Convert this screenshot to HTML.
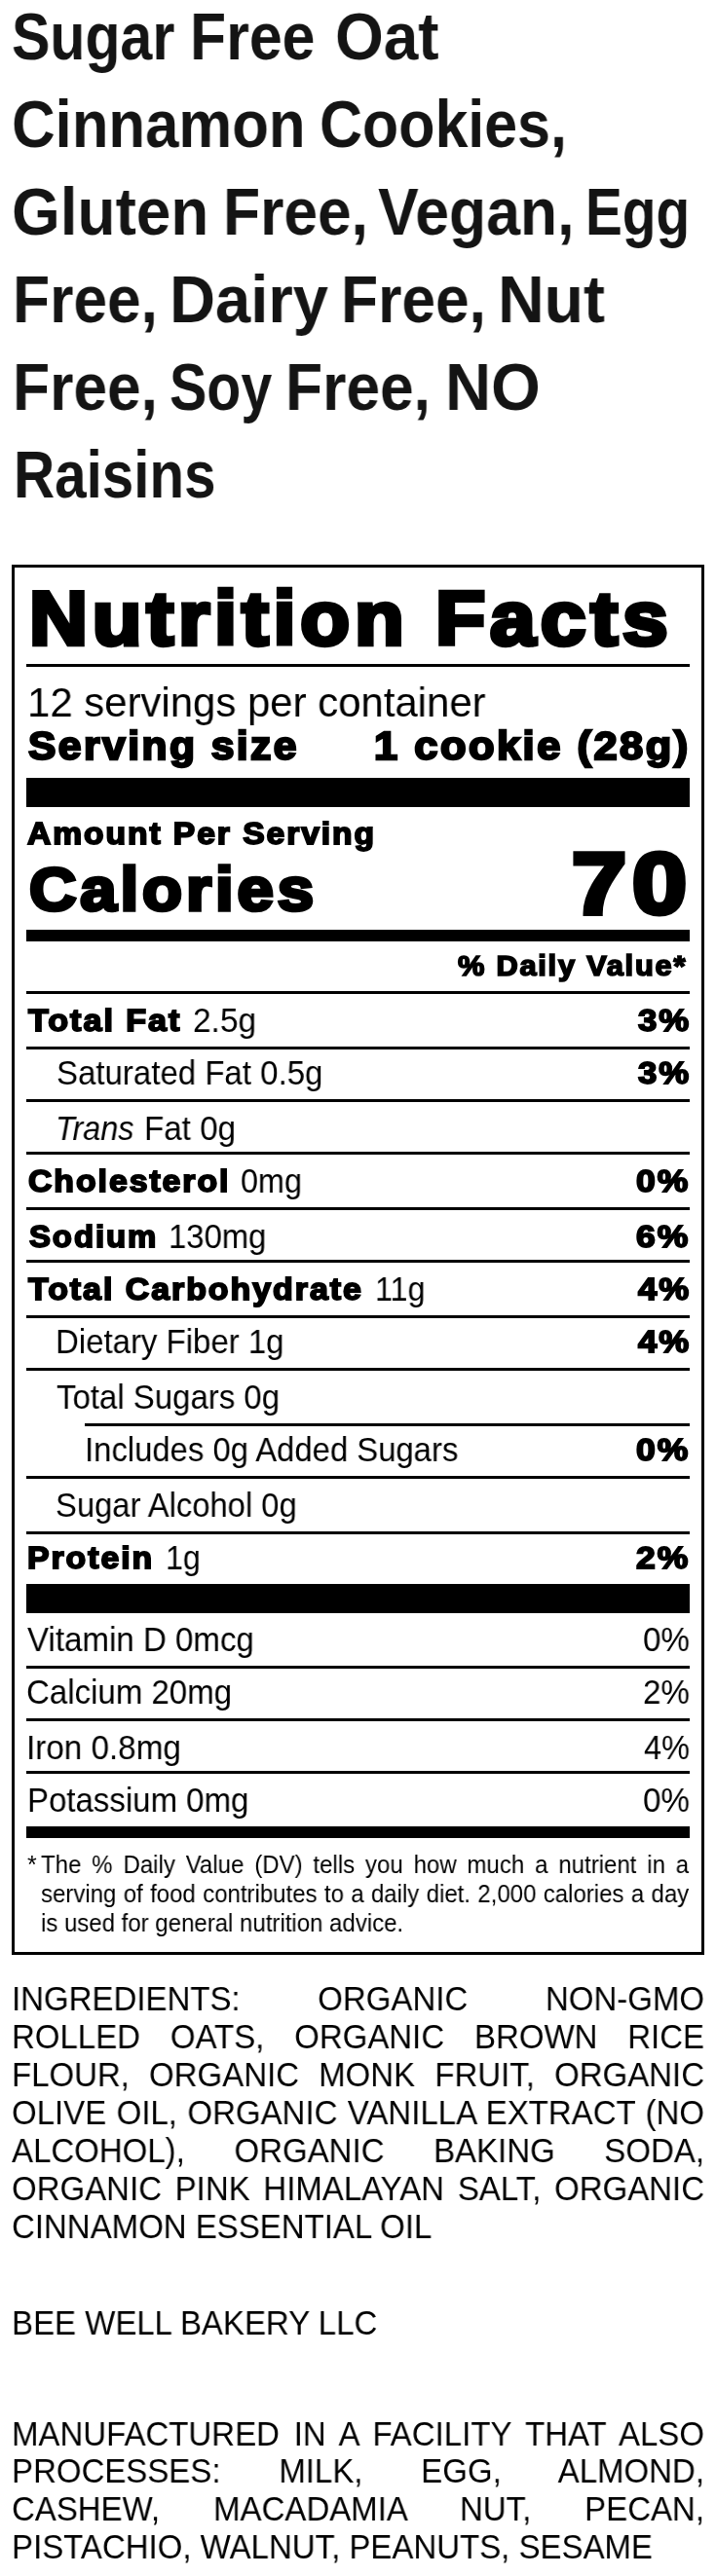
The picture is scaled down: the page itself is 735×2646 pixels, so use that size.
<!DOCTYPE html>
<html lang="en">
<head>
<meta charset="utf-8">
<title>Nutrition Facts</title>
<style>
html,body{margin:0;padding:0;background:#fff;}
body{width:735px;height:2646px;position:relative;overflow:hidden;font-family:"Liberation Sans",sans-serif;color:#000;}
.r{position:absolute;}
.t{position:absolute;white-space:nowrap;will-change:transform;}
.p{position:absolute;white-space:nowrap;will-change:transform;}
.j{text-align:justify;text-align-last:justify;white-space:normal;}
</style>
</head>
<body>
<div class="t" style="top:3.00px;font-size:69.4px;line-height:69px;height:69px;left:12.00px;font-weight:700;transform:scaleX(0.8505);transform-origin:left center;color:#141414">Sugar</div>
<div class="t" style="top:3.00px;font-size:69.4px;line-height:69px;height:69px;left:194.50px;font-weight:700;transform:scaleX(0.8760);transform-origin:left center;color:#141414">Free</div>
<div class="t" style="top:3.00px;font-size:69.4px;line-height:69px;height:69px;left:343.56px;font-weight:700;transform:scaleX(0.9211);transform-origin:left center;color:#141414">Oat</div>
<div class="t" style="top:93.00px;font-size:69.4px;line-height:69px;height:69px;left:12.22px;font-weight:700;transform:scaleX(0.8890);transform-origin:left center;color:#141414">Cinnamon</div>
<div class="t" style="top:93.00px;font-size:69.4px;line-height:69px;height:69px;left:327.84px;font-weight:700;transform:scaleX(0.8779);transform-origin:left center;color:#141414">Cookies,</div>
<div class="t" style="top:183.00px;font-size:69.4px;line-height:69px;height:69px;left:12.16px;font-weight:700;transform:scaleX(0.9210);transform-origin:left center;color:#141414">Gluten</div>
<div class="t" style="top:183.00px;font-size:69.4px;line-height:69px;height:69px;left:228.61px;font-weight:700;transform:scaleX(0.8980);transform-origin:left center;color:#141414">Free,</div>
<div class="t" style="top:183.00px;font-size:69.4px;line-height:69px;height:69px;left:388.40px;font-weight:700;transform:scaleX(0.9006);transform-origin:left center;color:#141414">Vegan,</div>
<div class="t" style="top:183.00px;font-size:69.4px;line-height:69px;height:69px;left:600.53px;font-weight:700;transform:scaleX(0.8168);transform-origin:left center;color:#141414">Egg</div>
<div class="t" style="top:273.00px;font-size:69.4px;line-height:69px;height:69px;left:12.51px;font-weight:700;transform:scaleX(0.8980);transform-origin:left center;color:#141414">Free,</div>
<div class="t" style="top:273.00px;font-size:69.4px;line-height:69px;height:69px;left:173.95px;font-weight:700;transform:scaleX(0.9383);transform-origin:left center;color:#141414">Dairy</div>
<div class="t" style="top:273.00px;font-size:69.4px;line-height:69px;height:69px;left:350.21px;font-weight:700;transform:scaleX(0.8980);transform-origin:left center;color:#141414">Free,</div>
<div class="t" style="top:273.00px;font-size:69.4px;line-height:69px;height:69px;left:510.59px;font-weight:700;transform:scaleX(0.9516);transform-origin:left center;color:#141414">Nut</div>
<div class="t" style="top:363.00px;font-size:69.4px;line-height:69px;height:69px;left:12.51px;font-weight:700;transform:scaleX(0.8980);transform-origin:left center;color:#141414">Free,</div>
<div class="t" style="top:363.00px;font-size:69.4px;line-height:69px;height:69px;left:173.65px;font-weight:700;transform:scaleX(0.8268);transform-origin:left center;color:#141414">Soy</div>
<div class="t" style="top:363.00px;font-size:69.4px;line-height:69px;height:69px;left:293.41px;font-weight:700;transform:scaleX(0.8980);transform-origin:left center;color:#141414">Free,</div>
<div class="t" style="top:363.00px;font-size:69.4px;line-height:69px;height:69px;left:456.54px;font-weight:700;transform:scaleX(0.9397);transform-origin:left center;color:#141414">NO</div>
<div class="t" style="top:453.00px;font-size:69.4px;line-height:69px;height:69px;left:13.64px;font-weight:700;transform:scaleX(0.8408);transform-origin:left center;color:#141414">Raisins</div>
<div class="r" style="left:12px;top:580px;width:705px;height:1422px;border:3px solid #000"></div>
<div class="t" style="top:596.00px;font-size:77.75px;line-height:78px;height:78px;left:30.07px;font-weight:700;transform:scaleX(1.0686);transform-origin:left center;-webkit-text-stroke:4.51px currentColor;letter-spacing:4.51px">Nutrition</div>
<div class="t" style="top:596.00px;font-size:77.75px;line-height:78px;height:78px;left:447.34px;font-weight:700;transform:scaleX(1.0791);transform-origin:left center;-webkit-text-stroke:4.51px currentColor;letter-spacing:4.51px">Facts</div>
<div class="r" style="left:27px;top:682px;width:681px;height:3px;background:#000"></div>
<div class="t" style="top:700.00px;font-size:43.4px;line-height:43px;height:43px;left:28.40px;transform:scaleX(0.9658);transform-origin:left center">12 servings per container</div>
<div class="t" style="top:746.00px;font-size:40.48px;line-height:40px;height:40px;left:28.78px;font-weight:700;transform:scaleX(1.0515);transform-origin:left center;-webkit-text-stroke:2.35px currentColor;letter-spacing:2.35px">Serving size</div>
<div class="t" style="top:746.00px;font-size:40.48px;line-height:40px;height:40px;left:384.12px;font-weight:700;transform:scaleX(1.0725);transform-origin:left center;-webkit-text-stroke:2.35px currentColor;letter-spacing:2.35px">1 cookie (28g)</div>
<div class="r" style="left:27px;top:799px;width:681px;height:30px;background:#000"></div>
<div class="t" style="top:841.00px;font-size:31.37px;line-height:31px;height:31px;left:28.17px;font-weight:700;transform:scaleX(1.0713);transform-origin:left center;-webkit-text-stroke:1.82px currentColor;letter-spacing:1.82px">Amount Per Serving</div>
<div class="t" style="top:882.00px;font-size:63.4px;line-height:63px;height:63px;left:29.93px;font-weight:700;transform:scaleX(1.0583);transform-origin:left center;-webkit-text-stroke:3.68px currentColor;letter-spacing:3.68px">Calories</div>
<div class="t" style="top:863.00px;font-size:89.14px;line-height:89px;height:89px;left:587.33px;font-weight:700;transform:scaleX(1.1311);transform-origin:left center;-webkit-text-stroke:5.17px currentColor;letter-spacing:5.17px">70</div>
<div class="r" style="left:27px;top:955px;width:681px;height:12px;background:#000"></div>
<div class="t" style="top:977.00px;font-size:29.89px;line-height:30px;height:30px;left:470.39px;font-weight:700;transform:scaleX(1.0291);transform-origin:left center;-webkit-text-stroke:1.73px currentColor;letter-spacing:1.73px">% Daily Value*</div>
<div class="r" style="left:27px;top:1018px;width:681px;height:3px;background:#000"></div>
<div class="t" style="top:1033.00px;font-size:31.1px;line-height:31px;height:31px;left:28.99px;font-weight:700;transform:scaleX(1.0972);transform-origin:left center;-webkit-text-stroke:1.8px currentColor;letter-spacing:1.8px">Total Fat</div>
<div class="t" style="top:1031.00px;font-size:34.34px;line-height:34px;height:34px;left:198.03px;transform:scaleX(0.9730);transform-origin:left center">2.5g</div>
<div class="t" style="top:1033.00px;font-size:31.1px;line-height:31px;height:31px;left:654.51px;font-weight:700;transform:scaleX(1.1171);transform-origin:left center;-webkit-text-stroke:1.8px currentColor;letter-spacing:1.8px">3%</div>
<div class="r" style="left:27px;top:1075px;width:681px;height:3px;background:#000"></div>
<div class="t" style="top:1085.00px;font-size:34.34px;line-height:34px;height:34px;left:57.64px;transform:scaleX(0.9614);transform-origin:left center">Saturated Fat 0.5g</div>
<div class="t" style="top:1087.00px;font-size:31.1px;line-height:31px;height:31px;left:654.51px;font-weight:700;transform:scaleX(1.1171);transform-origin:left center;-webkit-text-stroke:1.8px currentColor;letter-spacing:1.8px">3%</div>
<div class="r" style="left:27px;top:1129px;width:681px;height:3px;background:#000"></div>
<div class="t" style="top:1142.00px;font-size:34.34px;line-height:34px;height:34px;left:57.17px;font-style:italic;transform:scaleX(0.9447);transform-origin:left center">Trans</div>
<div class="t" style="top:1142.00px;font-size:34.34px;line-height:34px;height:34px;left:148.07px;transform:scaleX(0.9654);transform-origin:left center">Fat 0g</div>
<div class="r" style="left:27px;top:1183px;width:681px;height:3px;background:#000"></div>
<div class="t" style="top:1198.00px;font-size:31.1px;line-height:31px;height:31px;left:28.89px;font-weight:700;transform:scaleX(1.0866);transform-origin:left center;-webkit-text-stroke:1.8px currentColor;letter-spacing:1.8px">Cholesterol</div>
<div class="t" style="top:1196.00px;font-size:34.34px;line-height:34px;height:34px;left:246.56px;transform:scaleX(0.9421);transform-origin:left center">0mg</div>
<div class="t" style="top:1198.00px;font-size:31.1px;line-height:31px;height:31px;left:653.39px;font-weight:700;transform:scaleX(1.1409);transform-origin:left center;-webkit-text-stroke:1.8px currentColor;letter-spacing:1.8px">0%</div>
<div class="r" style="left:27px;top:1240px;width:681px;height:3px;background:#000"></div>
<div class="t" style="top:1255.00px;font-size:31.1px;line-height:31px;height:31px;left:29.55px;font-weight:700;transform:scaleX(1.0588);transform-origin:left center;-webkit-text-stroke:1.8px currentColor;letter-spacing:1.8px">Sodium</div>
<div class="t" style="top:1253.00px;font-size:34.34px;line-height:34px;height:34px;left:173.09px;transform:scaleX(0.9567);transform-origin:left center">130mg</div>
<div class="t" style="top:1255.00px;font-size:31.1px;line-height:31px;height:31px;left:653.39px;font-weight:700;transform:scaleX(1.1409);transform-origin:left center;-webkit-text-stroke:1.8px currentColor;letter-spacing:1.8px">6%</div>
<div class="r" style="left:27px;top:1294px;width:681px;height:3px;background:#000"></div>
<div class="t" style="top:1309.00px;font-size:31.1px;line-height:31px;height:31px;left:28.98px;font-weight:700;transform:scaleX(1.0909);transform-origin:left center;-webkit-text-stroke:1.8px currentColor;letter-spacing:1.8px">Total Carbohydrate</div>
<div class="t" style="top:1307.00px;font-size:34.34px;line-height:34px;height:34px;left:384.62px;transform:scaleX(0.9381);transform-origin:left center">11g</div>
<div class="t" style="top:1309.00px;font-size:31.1px;line-height:31px;height:31px;left:654.51px;font-weight:700;transform:scaleX(1.1171);transform-origin:left center;-webkit-text-stroke:1.8px currentColor;letter-spacing:1.8px">4%</div>
<div class="r" style="left:27px;top:1351px;width:681px;height:3px;background:#000"></div>
<div class="t" style="top:1361.00px;font-size:34.34px;line-height:34px;height:34px;left:57.48px;transform:scaleX(0.9604);transform-origin:left center">Dietary Fiber 1g</div>
<div class="t" style="top:1363.00px;font-size:31.1px;line-height:31px;height:31px;left:654.51px;font-weight:700;transform:scaleX(1.1171);transform-origin:left center;-webkit-text-stroke:1.8px currentColor;letter-spacing:1.8px">4%</div>
<div class="r" style="left:27px;top:1405px;width:681px;height:3px;background:#000"></div>
<div class="t" style="top:1418.00px;font-size:34.34px;line-height:34px;height:34px;left:58.00px;transform:scaleX(0.9601);transform-origin:left center">Total Sugars 0g</div>
<div class="r" style="left:87px;top:1462px;width:621px;height:3px;background:#000"></div>
<div class="t" style="top:1472.00px;font-size:34.34px;line-height:34px;height:34px;left:87.03px;transform:scaleX(0.9563);transform-origin:left center">Includes 0g Added Sugars</div>
<div class="t" style="top:1474.00px;font-size:31.1px;line-height:31px;height:31px;left:653.39px;font-weight:700;transform:scaleX(1.1409);transform-origin:left center;-webkit-text-stroke:1.8px currentColor;letter-spacing:1.8px">0%</div>
<div class="r" style="left:27px;top:1516px;width:681px;height:3px;background:#000"></div>
<div class="t" style="top:1529.00px;font-size:34.34px;line-height:34px;height:34px;left:57.45px;transform:scaleX(0.9545);transform-origin:left center">Sugar Alcohol 0g</div>
<div class="r" style="left:27px;top:1573px;width:681px;height:3px;background:#000"></div>
<div class="t" style="top:1585.00px;font-size:31.1px;line-height:31px;height:31px;left:28.00px;font-weight:700;transform:scaleX(1.0864);transform-origin:left center;-webkit-text-stroke:1.8px currentColor;letter-spacing:1.8px">Protein</div>
<div class="t" style="top:1583.00px;font-size:34.34px;line-height:34px;height:34px;left:169.62px;transform:scaleX(0.9386);transform-origin:left center">1g</div>
<div class="t" style="top:1585.00px;font-size:31.1px;line-height:31px;height:31px;left:653.39px;font-weight:700;transform:scaleX(1.1409);transform-origin:left center;-webkit-text-stroke:1.8px currentColor;letter-spacing:1.8px">2%</div>
<div class="r" style="left:27px;top:1627px;width:681px;height:30px;background:#000"></div>
<div class="t" style="top:1667.00px;font-size:34.34px;line-height:34px;height:34px;left:27.70px;transform:scaleX(0.9634);transform-origin:left center">Vitamin D 0mcg</div>
<div class="t" style="top:1667.00px;font-size:34.34px;line-height:34px;height:34px;left:659.53px;transform:scaleX(0.9669);transform-origin:left center">0%</div>
<div class="t" style="top:1721.00px;font-size:34.34px;line-height:34px;height:34px;left:27.44px;transform:scaleX(0.9621);transform-origin:left center">Calcium 20mg</div>
<div class="t" style="top:1721.00px;font-size:34.34px;line-height:34px;height:34px;left:659.53px;transform:scaleX(0.9669);transform-origin:left center">2%</div>
<div class="t" style="top:1778.00px;font-size:34.34px;line-height:34px;height:34px;left:27.20px;transform:scaleX(0.9679);transform-origin:left center">Iron 0.8mg</div>
<div class="t" style="top:1778.00px;font-size:34.34px;line-height:34px;height:34px;left:660.50px;transform:scaleX(0.9472);transform-origin:left center">4%</div>
<div class="t" style="top:1832.00px;font-size:34.34px;line-height:34px;height:34px;left:28.18px;transform:scaleX(0.9609);transform-origin:left center">Potassium 0mg</div>
<div class="t" style="top:1832.00px;font-size:34.34px;line-height:34px;height:34px;left:659.53px;transform:scaleX(0.9669);transform-origin:left center">0%</div>
<div class="r" style="left:27px;top:1711px;width:681px;height:3px;background:#000"></div>
<div class="r" style="left:27px;top:1765px;width:681px;height:3px;background:#000"></div>
<div class="r" style="left:27px;top:1819px;width:681px;height:3px;background:#000"></div>
<div class="r" style="left:27px;top:1876px;width:681px;height:12px;background:#000"></div>
<div class="t" style="top:1903.00px;font-size:24.98px;line-height:25px;height:25px;left:27.6px;transform:scaleX(0.9609);transform-origin:left center">*</div>
<div class="p j" style="left:42.4px;top:1903.00px;width:692.27px;font-size:24.98px;line-height:25px;height:25px;transform:scaleX(0.9609);transform-origin:left center">The % Daily Value (DV) tells you how much a nutrient in a</div>
<div class="p j" style="left:42.4px;top:1933.00px;width:692.27px;font-size:24.98px;line-height:25px;height:25px;transform:scaleX(0.9609);transform-origin:left center">serving of food contributes to a daily diet. 2,000 calories a day</div>
<div class="p" style="left:42.4px;top:1963.00px;width:692.27px;font-size:24.98px;line-height:25px;height:25px;transform:scaleX(0.9609);transform-origin:left center">is used for general nutrition advice.</div>
<div class="p j" style="left:12px;top:2036.00px;width:739.94px;font-size:34.34px;line-height:34px;height:34px;transform:scaleX(0.9609);transform-origin:left center">INGREDIENTS: ORGANIC NON-GMO</div>
<div class="p j" style="left:12px;top:2075.00px;width:739.94px;font-size:34.34px;line-height:34px;height:34px;transform:scaleX(0.9609);transform-origin:left center">ROLLED OATS, ORGANIC BROWN RICE</div>
<div class="p j" style="left:12px;top:2114.00px;width:739.94px;font-size:34.34px;line-height:34px;height:34px;transform:scaleX(0.9609);transform-origin:left center">FLOUR, ORGANIC MONK FRUIT, ORGANIC</div>
<div class="p j" style="left:12px;top:2153.00px;width:739.94px;font-size:34.34px;line-height:34px;height:34px;transform:scaleX(0.9609);transform-origin:left center">OLIVE OIL, ORGANIC VANILLA EXTRACT (NO</div>
<div class="p j" style="left:12px;top:2192.00px;width:739.94px;font-size:34.34px;line-height:34px;height:34px;transform:scaleX(0.9609);transform-origin:left center">ALCOHOL), ORGANIC BAKING SODA,</div>
<div class="p j" style="left:12px;top:2231.00px;width:739.94px;font-size:34.34px;line-height:34px;height:34px;transform:scaleX(0.9609);transform-origin:left center">ORGANIC PINK HIMALAYAN SALT, ORGANIC</div>
<div class="p" style="left:12px;top:2270.00px;width:739.94px;font-size:34.34px;line-height:34px;height:34px;transform:scaleX(0.9609);transform-origin:left center">CINNAMON ESSENTIAL OIL</div>
<div class="p" style="left:12px;top:2369.00px;width:739.94px;font-size:34.34px;line-height:34px;height:34px;transform:scaleX(0.9609);transform-origin:left center">BEE WELL BAKERY LLC</div>
<div class="p j" style="left:12px;top:2483.00px;width:739.94px;font-size:34.34px;line-height:34px;height:34px;transform:scaleX(0.9609);transform-origin:left center">MANUFACTURED IN A FACILITY THAT ALSO</div>
<div class="p j" style="left:12px;top:2521.00px;width:739.94px;font-size:34.34px;line-height:34px;height:34px;transform:scaleX(0.9609);transform-origin:left center">PROCESSES: MILK, EGG, ALMOND,</div>
<div class="p j" style="left:12px;top:2560.00px;width:739.94px;font-size:34.34px;line-height:34px;height:34px;transform:scaleX(0.9609);transform-origin:left center">CASHEW, MACADAMIA NUT, PECAN,</div>
<div class="p" style="left:12px;top:2599.00px;width:739.94px;font-size:34.34px;line-height:34px;height:34px;transform:scaleX(0.9609);transform-origin:left center">PISTACHIO, WALNUT, PEANUTS, SESAME</div>
</body>
</html>
